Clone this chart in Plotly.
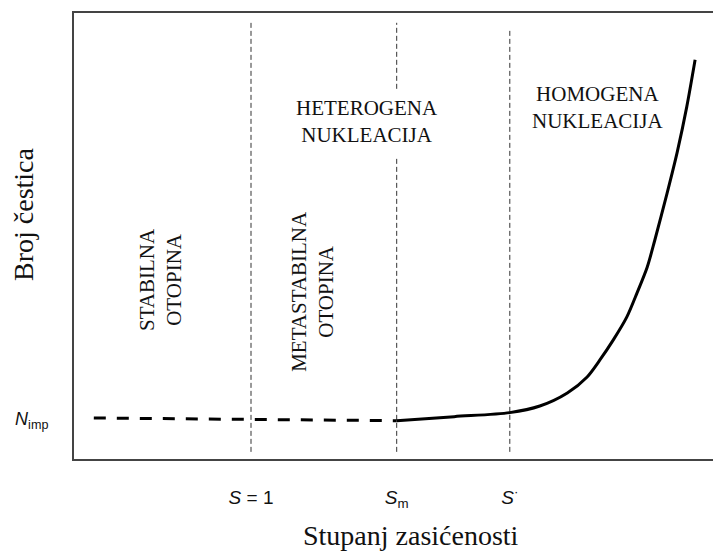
import plotly.graph_objects as go

# Positions on an arbitrary 0-100 scale (x: saturation degree, y: particle count)
s_names = ["<i>S</i> = 1", "<i>S</i><sub>m</sub>", "<i>S</i><sup>·</sup>"]
s_pos = [27.7, 50.5, 68.2]
n_imp = 9.0

# dashed (sub-critical) part of the curve
dash_x = [3.1, 50.5]
dash_y = [9.19, 8.59]

# solid (nucleation) part of the curve
curve_x = [50.5, 59.5, 68.2, 72.9, 77.2, 80.3, 82.3, 84.4, 86.5, 88.1, 89.7, 90.9, 92.8, 94.4, 95.9, 97.2]
curve_y = [8.59, 9.5, 10.4, 11.88, 14.8, 18.4, 22.2, 26.7, 31.8, 37.2, 43.0, 49.1, 59.5, 68.8, 79.0, 89.5]

# vertical boundary lines (y extents of segments)
vline_segments = [
    (27.7, [1.6, 97.8]),
    (50.5, [1.6, 67.9]),
    (50.5, [83.0, 97.8]),
    (68.2, [1.6, 96.6]),
]

region_labels = [
    ("HETEROGENA<br>NUKLEACIJA", 45.8, 75.6, 0),
    ("HOMOGENA<br>NUKLEACIJA", 81.9, 78.9, 0),
    ("STABILNA<br>OTOPINA", 13.5, 40.2, -90),
    ("METASTABILNA<br>OTOPINA", 37.4, 37.7, -90),
]

PL, PT, PW, PH = 74, 13, 639, 446  # plot area in pixels

fig = go.Figure()

for xv, ys in vline_segments:
    fig.add_trace(go.Scatter(x=[xv, xv], y=ys, mode="lines",
                             line=dict(color="#333333", width=1, dash="5px,3px"),
                             hoverinfo="skip", showlegend=False))

fig.add_trace(go.Scatter(x=dash_x, y=dash_y, mode="lines",
                         line=dict(color="#000000", width=3, dash="12px,11px"),
                         showlegend=False))
fig.add_trace(go.Scatter(x=curve_x, y=curve_y, mode="lines", line_shape="spline",
                         line=dict(color="#000000", width=3, smoothing=0.8), showlegend=False))

serif = "Liberation Serif, Times New Roman, serif"
for text, xv, yv, ang in region_labels:
    fig.add_annotation(x=xv, y=yv, xref="x", yref="y", text=text, showarrow=False,
                       textangle=ang, font=dict(family=serif, size=21, color="#111111"))

# axis titles
fig.add_annotation(xref="paper", yref="paper", x=(411 - PL) / PW, y=-(535 - PT - PH) / PH,
                   xanchor="center", yanchor="middle", text="Stupanj zasićenosti",
                   showarrow=False, font=dict(family=serif, size=28, color="#111111"))
fig.add_annotation(xref="paper", yref="paper", x=-(PL - 23) / PW, y=(PT + PH - 214) / PH,
                   xanchor="center", yanchor="middle", text="Broj čestica", textangle=-90,
                   showarrow=False, font=dict(family=serif, size=28, color="#111111"))

fig.update_layout(
    width=713, height=551,
    margin=dict(l=PL, r=713 - PL - PW, t=PT, b=551 - PT - PH, autoexpand=False),
    paper_bgcolor="white", plot_bgcolor="white",
    showlegend=False,
    xaxis=dict(range=[0, 100], tickvals=s_pos, ticktext=s_names, automargin=False,
               showgrid=False, zeroline=False, showline=True, mirror=True,
               linecolor="#444444", linewidth=2, ticks="", ticklabelstandoff=20,
               tickfont=dict(family="Liberation Sans, Arial, sans-serif", size=19, color="#111111")),
    yaxis=dict(range=[0, 100], tickvals=[n_imp], ticktext=["<i>N</i><sub>imp</sub>"],
               automargin=False,
               showgrid=False, zeroline=False, showline=True, mirror=False,
               linecolor="#444444", linewidth=2, ticks="", ticklabelstandoff=20,
               tickfont=dict(family="Liberation Sans, Arial, sans-serif", size=18, color="#111111")),
)

fig.write_html("out.html", config={"displayModeBar": False},
               post_script="document.body.style.margin='0';document.body.style.overflow='hidden';")
